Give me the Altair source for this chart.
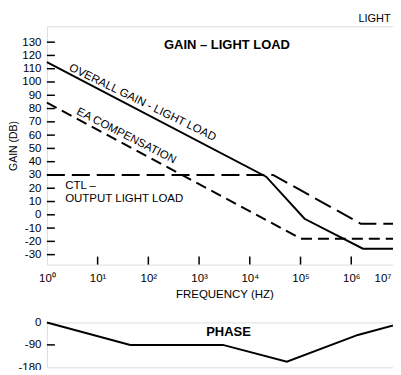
import json
import altair as alt
import pandas as pd

# ---------------- data ----------------
# Gain plot (frequency in Hz, gain in dB)
overall_freq = [1, 21000, 120000, 1700000, 10000000]
overall_db = [115, 28.7, -3, -25.5, -25.5]

ea_freq = [1, 102000, 10000000]
ea_db = [84.5, -18, -18]

ctl_freq = [1, 28800, 1550000, 10000000]
ctl_db = [30, 30, -6.75, -6.75]

# Phase plot (frequency in Hz, phase in degrees)
phase_freq = [1, 44, 2950, 53700, 1350000, 10000000]
phase_deg = [0, -90, -90, -157, -50, -3]

# axes
x_tick_values = [1, 10, 100, 1000, 10000, 100000, 1000000, 10000000]
x_tick_labels = ["10⁰", "10¹", "10²", "10³", "10⁴", "10⁵", "10⁶", "10⁷"]
y_tick_values = [-30, -20, -10, 0, 10, 20, 30, 40, 50, 60, 70, 80, 90, 100, 110, 120, 130]
phase_tick_values = [0, -90, -180]

FONT = "Liberation Sans"
W = 356
H1 = 239
H2 = 45

x_domain = [1, 10000000]
gain_domain = [-37.5, 142]
phase_domain = [-180, 0]

# ---------------- encodings ----------------
x_scale = alt.Scale(type="log", domain=x_domain, nice=False)
y_scale = alt.Scale(domain=gain_domain, nice=False, zero=False)
p_scale = alt.Scale(domain=phase_domain, nice=False, zero=False)

label_expr_x = json.dumps(x_tick_labels, ensure_ascii=False) + "[round(log(datum.value)/LN10)]"
minus_fix = "replace(datum.label, '\u2212', '-')"
last_x = "datum.value >= 10000000"

x_axis = alt.Axis(values=x_tick_values, labelExpr=label_expr_x, ticks=False, domain=False,
                  grid=False, title="FREQUENCY (HZ)", labelFlush=False, labelOverlap=False,
                  labelAlign={"condition": {"test": last_x, "value": "right"}, "value": "center"},
                  labelOffset={"condition": {"test": last_x, "value": -11}, "value": 0},
                  labelPadding=8, titlePadding=4, labelFontSize=11.5, titleFontSize=11.5,
                  titleFontWeight="normal", labelFont=FONT, titleFont=FONT, labelColor="black",
                  titleColor="black")
y_axis = alt.Axis(values=y_tick_values, labelExpr=minus_fix, ticks=False, domain=False,
                  grid=False, title="GAIN (DB)", labelPadding=6, titlePadding=3,
                  labelFontSize=11.5, titleFontSize=10.5, titleFontWeight="normal",
                  labelFont=FONT, titleFont=FONT, labelColor="black", titleColor="black")
p_axis = alt.Axis(values=phase_tick_values, labelExpr=minus_fix, ticks=False, domain=False,
                  grid=False, title=None, labelPadding=6, labelFontSize=11.5, labelFont=FONT,
                  labelColor="black")


def X(field):
    return alt.X(f"{field}:Q", scale=x_scale, axis=x_axis)


def Y(field):
    return alt.Y(f"{field}:Q", scale=y_scale, axis=y_axis)


def XP(field):
    return alt.X(f"{field}:Q", scale=x_scale, axis=None)


def YP(field):
    return alt.Y(f"{field}:Q", scale=p_scale, axis=p_axis)


overall_df = pd.DataFrame({"f": overall_freq, "g": overall_db})
ea_df = pd.DataFrame({"f": ea_freq, "g": ea_db})
ctl_df = pd.DataFrame({"f": ctl_freq, "g": ctl_db})
phase_df = pd.DataFrame({"f": phase_freq, "g": phase_deg})
xt_df = pd.DataFrame({"f": x_tick_values[1:-1]})
yt_df = pd.DataFrame({"g": y_tick_values})
pt_df = pd.DataFrame({"g": [-90]})

overall = alt.Chart(overall_df).mark_line(color="black", strokeWidth=2).encode(x=X("f"), y=Y("g"))
ea = alt.Chart(ea_df).mark_line(color="black", strokeWidth=2, strokeDash=[11, 6]).encode(x=X("f"), y=Y("g"))
ctl = alt.Chart(ctl_df).mark_line(color="black", strokeWidth=2, strokeDash=[18, 7]).encode(x=X("f"), y=Y("g"))

x_ticks = alt.Chart(xt_df).mark_rule(color="black", strokeWidth=1.5).encode(
    x=X("f"), y=alt.value(H1), y2=alt.value(H1 - 8))
y_ticks = alt.Chart(yt_df).mark_rule(color="black", strokeWidth=1.5).encode(
    y=Y("g"), x=alt.value(0), x2=alt.value(8))

# annotations (positions in data space)
ann_overall = alt.Chart(pd.DataFrame({"f": [2.65], "g": [109.0], "t": ["OVERALL GAIN - LIGHT LOAD"]})).mark_text(
    align="left", baseline="alphabetic", angle=26, font=FONT, fontSize=11.5, color="black"
).encode(x=X("f"), y=Y("g"), text="t:N")
ann_ea = alt.Chart(pd.DataFrame({"f": [3.72], "g": [76.0], "t": ["EA COMPENSATION"]})).mark_text(
    align="left", baseline="alphabetic", angle=27, font=FONT, fontSize=11.5, color="black"
).encode(x=X("f"), y=Y("g"), text="t:N")
ann_ctl = alt.Chart(pd.DataFrame({"f": [2.29, 2.29], "g": [19.4, 9.4], "t": ["CTL –", "OUTPUT LIGHT LOAD"]})).mark_text(
    align="left", baseline="alphabetic", font=FONT, fontSize=11.5, color="black"
).encode(x=X("f"), y=Y("g"), text="t:N")
ann_title = alt.Chart(pd.DataFrame({"f": [3550], "g": [124.8], "t": ["GAIN – LIGHT LOAD"]})).mark_text(
    align="center", baseline="alphabetic", font=FONT, fontSize=13, fontWeight="bold", color="black"
).encode(x=X("f"), y=Y("g"), text="t:N")
ann_corner = alt.Chart(pd.DataFrame({"f": [6000000], "g": [145.4], "t": ["LIGHT"]})).mark_text(
    align="right", baseline="alphabetic", font=FONT, fontSize=11, color="black"
).encode(x=X("f"), y=Y("g"), text="t:N")

gain = alt.layer(overall, ea, ctl, x_ticks, y_ticks, ann_overall, ann_ea, ann_ctl, ann_title,
                 ann_corner).properties(width=W, height=H1)

phase_line = alt.Chart(phase_df).mark_line(color="black", strokeWidth=2).encode(x=XP("f"), y=YP("g"))
p_ticks = alt.Chart(pt_df).mark_rule(color="black", strokeWidth=1.5).encode(
    y=YP("g"), x=alt.value(0), x2=alt.value(8))
ann_phase = alt.Chart(pd.DataFrame({"f": [3800], "g": [-55], "t": ["PHASE"]})).mark_text(
    align="center", baseline="alphabetic", font=FONT, fontSize=13, fontWeight="bold", color="black"
).encode(x=XP("f"), y=YP("g"), text="t:N")

phase = alt.layer(phase_line, p_ticks, ann_phase).properties(width=W, height=H2)

chart = alt.vconcat(gain, phase, spacing=15).properties(
    padding={"left": 0, "top": 2.8, "right": -14, "bottom": -4}
).configure_view(stroke="black", strokeWidth=2).configure(font=FONT, background="white")

chart.save("out.html", embed_options={"renderer": "svg", "actions": False})
